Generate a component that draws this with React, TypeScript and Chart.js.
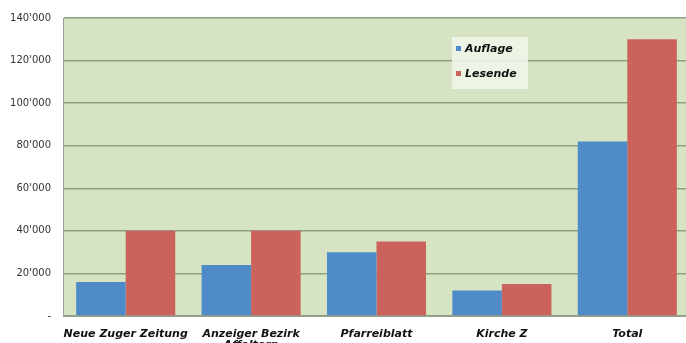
import React, { useEffect, useRef } from "react";
import { Chart, registerables } from "chart.js";

Chart.register(...registerables);

const categories: (string | string[])[] = [
  "Neue Zuger Zeitung",
  ["Anzeiger Bezirk", "Affoltern"],
  "Pfarreiblatt",
  "Kirche Z",
  "Total",
];
const seriesNames = ["Auflage", "Lesende"];
const auflage = [16000, 24000, 30000, 12000, 82000];
const lesende = [40000, 40000, 35000, 15000, 130000];
const yMax = 140000;
const yStep = 20000;

const BLUE = "#4f8bc8";
const RED = "#cc625c";
const FONT = "'DejaVu Sans', Verdana, sans-serif";

function fmt(v: number): string {
  if (v === 0) return "-";
  return String(v).replace(/\B(?=(\d{3})+(?!\d))/g, "'");
}

const bgPlugin = {
  id: "bgArea",
  beforeDraw(chart: any) {
    const { ctx, chartArea: a } = chart;
    ctx.save();
    ctx.fillStyle = "#d6e4c4";
    ctx.fillRect(a.left, a.top, a.right - a.left, a.bottom - a.top);
    ctx.restore();
  },
};

const legendPlugin = {
  id: "innerLegend",
  afterDraw(chart: any) {
    const { ctx, chartArea: a } = chart;
    const x = a.left + 389;
    const y = a.top + 19;
    ctx.save();
    ctx.fillStyle = "rgba(240,245,234,0.9)";
    ctx.fillRect(x, y, 76, 52);
    ctx.font = `italic bold 11px ${FONT}`;
    ctx.textBaseline = "middle";
    chart.data.datasets.forEach((ds: any, i: number) => {
      const cy = y + 12 + i * 25;
      ctx.fillStyle = ds.backgroundColor;
      ctx.fillRect(x + 4, cy - 3, 5, 5);
      ctx.fillStyle = "#111";
      ctx.fillText(ds.label, x + 13, cy);
    });
    ctx.restore();
  },
};

export default function App() {
  const ref = useRef<HTMLCanvasElement | null>(null);
  useEffect(() => {
    document.body.style.margin = "0";
    const chart = new Chart(ref.current!, {
      type: "bar",
      data: {
        labels: categories,
        datasets: [
          { label: seriesNames[0], data: auflage, backgroundColor: BLUE, borderWidth: 0 },
          { label: seriesNames[1], data: lesende, backgroundColor: RED, borderWidth: 0 },
        ],
      },
      options: {
        animation: false,
        responsive: false,
        layout: { padding: { top: 18, right: 0, left: 0, bottom: 0 } },
        datasets: { bar: { categoryPercentage: 0.79, barPercentage: 1 } },
        plugins: { legend: { display: false }, tooltip: { enabled: false } },
        scales: {
          x: {
            afterFit(scale: any) {
              scale.height = 27;
            },
            grid: { display: false },
            border: { display: true, color: "#9aa08f", width: 1 },
            ticks: {
              color: "#111",
              font: { family: FONT, size: 11, style: "italic", weight: "bold", lineHeight: 1.05 },
              maxRotation: 0,
              autoSkip: false,
              padding: 4,
            },
          },
          y: {
            min: 0,
            max: yMax,
            afterFit(scale: any) {
              scale.width = 63;
            },
            grid: { color: "#8f9f82", lineWidth: 1.5, drawTicks: false },
            border: { display: true, color: "#9aa08f", width: 1 },
            ticks: {
              stepSize: yStep,
              padding: 12,
              color: "#333",
              font: { family: FONT, size: 10 },
              callback: (v: any) => fmt(Number(v)),
            },
          },
        },
      },
      plugins: [bgPlugin, legendPlugin],
    });
    return () => chart.destroy();
  }, []);
  return (
    <div style={{ width: 686, height: 343, overflow: "hidden", background: "#fff" }}>
      <canvas ref={ref} width={690} height={343} style={{ display: "block" }} />
    </div>
  );
}
